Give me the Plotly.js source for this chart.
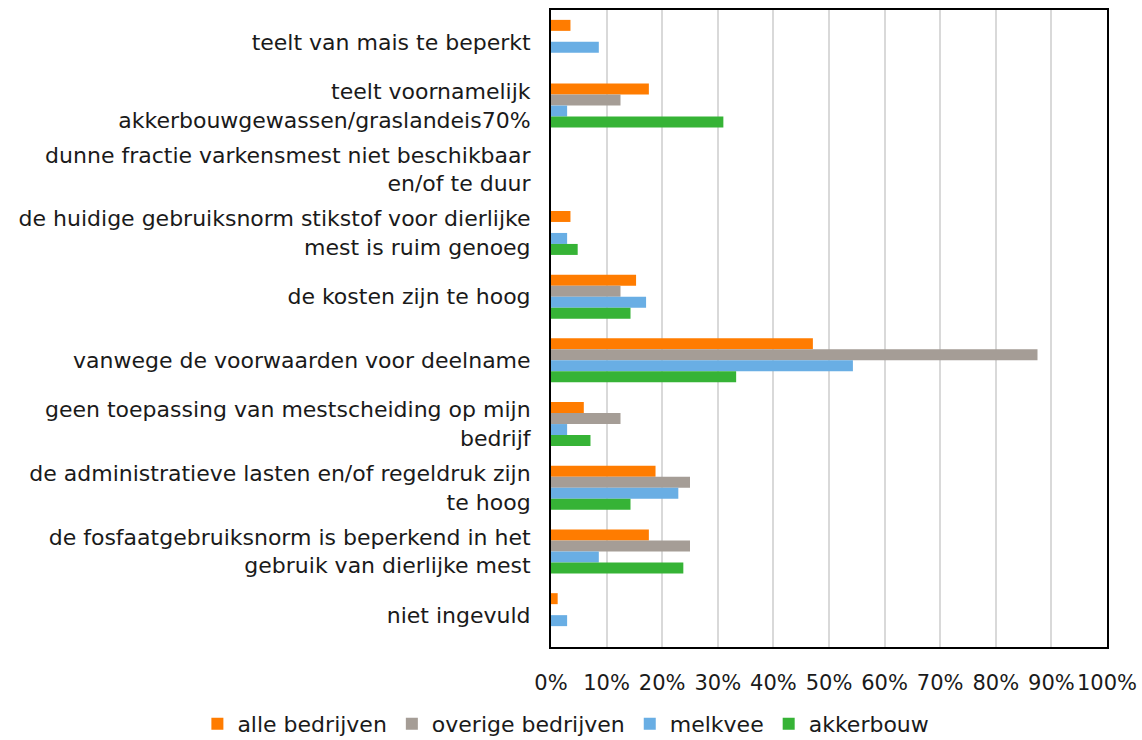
<!DOCTYPE html>
<html>
<head>
<meta charset="utf-8">
<script src="https://cdn.plot.ly/plotly-3.0.1.min.js"></script>
<style>
  html, body { margin: 0; padding: 0; background: #ffffff; }
  #chart { width: 1142px; height: 740px; }
</style>
</head>
<body>
<div id="chart"></div>
<script>
const categories = [
  "teelt van mais te beperkt",
  "teelt voornamelijk<br>akkerbouwgewassen/graslandeis70%",
  "dunne fractie varkensmest niet beschikbaar<br>en/of te duur",
  "de huidige gebruiksnorm stikstof voor dierlijke<br>mest is ruim genoeg",
  "de kosten zijn te hoog",
  "vanwege de voorwaarden voor deelname",
  "geen toepassing van mestscheiding op mijn<br>bedrijf",
  "de administratieve lasten en/of regeldruk zijn<br>te hoog",
  "de fosfaatgebruiksnorm is beperkend in het<br>gebruik van dierlijke mest",
  "niet ingevuld"
];
const seriesNames = ["alle bedrijven", "overige bedrijven", "melkvee", "akkerbouw"];
const alleBedrijven    = [3.5, 17.6, 0, 3.5, 15.3, 47.1, 5.9, 18.8, 17.6, 1.2];
const overigeBedrijven = [0, 12.5, 0, 0, 12.5, 87.5, 12.5, 25.0, 25.0, 0];
const melkvee          = [8.6, 2.9, 0, 2.9, 17.1, 54.3, 2.9, 22.9, 8.6, 2.9];
const akkerbouw        = [0, 31.0, 0, 4.8, 14.3, 33.3, 7.1, 14.3, 23.8, 0];
const seriesValues = [alleBedrijven, overigeBedrijven, melkvee, akkerbouw];
const colors = ["#FF7C00", "#A59D96", "#69AEE4", "#36B336"];
const xTickVals = [0, 10, 20, 30, 40, 50, 60, 70, 80, 90, 100];
const xTickText = ["0%", "10%", "20%", "30%", "40%", "50%", "60%", "70%", "80%", "90%", "100%"];

const traces = seriesNames.map((name, i) => ({
  type: "bar",
  orientation: "h",
  name: name,
  y: categories,
  x: seriesValues[i],
  marker: { color: colors[i] },
  hoverinfo: "x+name"
}));

const layout = {
  width: 1142,
  height: 740,
  margin: { l: 551, r: 35, t: 10, b: 93, autoexpand: false },
  paper_bgcolor: "#ffffff",
  plot_bgcolor: "#ffffff",
  font: { family: "DejaVu Sans, Verdana, sans-serif", size: 21, color: "#1a1a1a" },
  barmode: "group",
  bargap: 0.31,
  bargroupgap: 0,
  xaxis: {
    range: [0, 100],
    tickmode: "array",
    tickvals: xTickVals,
    ticktext: xTickText,
    showgrid: true,
    gridcolor: "#d9d9d9",
    gridwidth: 2,
    zeroline: false,
    showline: true,
    linecolor: "#000000",
    linewidth: 2,
    mirror: true,
    ticks: "",
    ticklabelstandoff: 16,
    automargin: false,
    tickfont: { size: 21 }
  },
  yaxis: {
    autorange: "reversed",
    type: "category",
    showgrid: false,
    zeroline: false,
    showline: true,
    linecolor: "#000000",
    linewidth: 2,
    mirror: true,
    ticks: "",
    ticklabelstandoff: 14,
    automargin: false,
    tickfont: { size: 22 }
  },
  legend: {
    orientation: "h",
    xref: "paper",
    yref: "paper",
    x: -0.636,
    xanchor: "left",
    y: -0.088,
    yanchor: "top",
    font: { size: 22 },
    traceorder: "normal",
    itemwidth: 30
  },
  showlegend: true
};

Plotly.newPlot("chart", traces, layout, { displayModeBar: false, staticPlot: true });
</script>
</body>
</html>
